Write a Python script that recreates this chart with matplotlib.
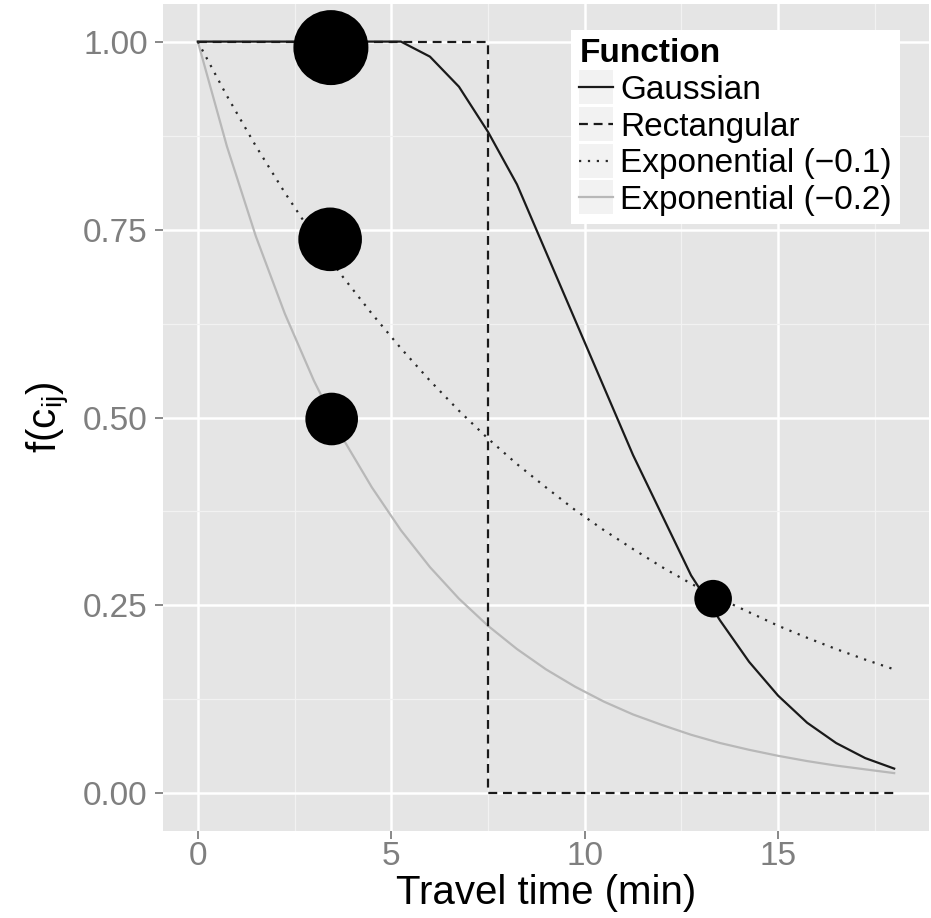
import matplotlib
matplotlib.use("Agg")
import matplotlib.pyplot as plt
from matplotlib.lines import Line2D
from matplotlib.patches import Rectangle
from matplotlib.legend_handler import HandlerLine2D

plt.rcParams['font.family'] = ['Liberation Sans', 'DejaVu Sans']

# ---------------- data ----------------
time_grid = [0, 0.75, 1.5, 2.25, 3, 3.75, 4.5, 5.25, 6, 6.75, 7.5, 8.25, 9,
             9.75, 10.5, 11.25, 12, 12.75, 13.5, 14.25, 15, 15.75, 16.5, 17.25, 18]
gaussian = [1.0, 1.0, 1.0, 1.0, 1.0, 1.0, 1.0, 1.0, 0.98, 0.94, 0.88, 0.81, 0.72,
            0.63, 0.54, 0.45, 0.37, 0.29, 0.23, 0.175, 0.13, 0.094, 0.067, 0.047, 0.033]
exp_01 = [1.0, 0.928, 0.861, 0.799, 0.741, 0.687, 0.638, 0.592, 0.549, 0.509, 0.472,
          0.438, 0.407, 0.377, 0.35, 0.325, 0.301, 0.279, 0.259, 0.241, 0.223, 0.207,
          0.192, 0.178, 0.165]
exp_02 = [1.0, 0.861, 0.741, 0.638, 0.549, 0.472, 0.407, 0.35, 0.301, 0.259, 0.223,
          0.192, 0.165, 0.142, 0.122, 0.105, 0.091, 0.078, 0.067, 0.058, 0.05, 0.043,
          0.037, 0.032, 0.027]
rect_time = [0, 7.5, 7.5, 18]
rect_value = [1.0, 1.0, 0.0, 0.0]

point_time = [3.44, 3.42, 3.46, 13.32]
point_value = [0.992, 0.737, 0.498, 0.259]
point_size = [2916, 2097, 1435, 733]

series_labels = ["Gaussian", "Rectangular", "Exponential (\u22120.1)", "Exponential (\u22120.2)"]
legend_title = "Function"
x_ticks = [0, 5, 10, 15]
x_tick_labels = ["0", "5", "10", "15"]
x_minor = [2.5, 7.5, 12.5, 17.5]
y_ticks = [0.0, 0.25, 0.5, 0.75, 1.0]
y_tick_labels = ["0.00", "0.25", "0.50", "0.75", "1.00"]
y_minor = [0.125, 0.375, 0.625, 0.875]
x_title = "Travel time (min)"
y_title = r"$\mathregular{f(c_{ij})}$"

# ---------------- figure ----------------
W, H = 931, 918
fig = plt.figure(figsize=(W / 100, H / 100), dpi=100)
ax = fig.add_axes([163 / W, 87 / H, 766 / W, 827 / H])
ax.set_facecolor('#E5E5E5')
for s in ax.spines.values():
    s.set_visible(False)

ax.set_xlim(-0.9, 18.9)
ax.set_ylim(-0.05, 1.05)
ax.set_xticks(x_ticks)
ax.set_xticklabels(x_tick_labels)
ax.set_yticks(y_ticks)
ax.set_yticklabels(y_tick_labels)
ax.set_xticks(x_minor, minor=True)
ax.set_yticks(y_minor, minor=True)

ax.grid(which='major', color='white', linewidth=1.8, zorder=0)
ax.grid(which='minor', color='#F2F2F2', linewidth=0.9, zorder=0)
ax.set_axisbelow(True)

ax.tick_params(which='major', axis='both', labelsize=24, labelcolor='#7F7F7F',
               color='#7F7F7F', length=6, width=1.3)
ax.tick_params(which='major', axis='y', pad=5)
ax.tick_params(which='major', axis='x', pad=1.5)
ax.tick_params(which='minor', length=0)

lw = 1.6
l_gauss, = ax.plot(time_grid, gaussian, color='#1A1A1A', lw=lw, zorder=3)
l_rect, = ax.plot(rect_time, rect_value, color='#1A1A1A', lw=lw,
                  linestyle=(0, (4.0, 2.6)), zorder=3)
l_exp1, = ax.plot(time_grid, exp_01, color='#2A2A2A', lw=lw,
                  linestyle=(0, (1, 3.0)), zorder=3)
l_exp2, = ax.plot(time_grid, exp_02, color='#B8B8B8', lw=lw, zorder=2)

ax.scatter(point_time, point_value, s=point_size, c='black', linewidths=0, zorder=5)

ax.set_xlabel(x_title, fontsize=29, va='center')
ax.xaxis.set_label_coords(0.5, -0.075)
ax.set_ylabel(y_title, fontsize=29, va='center', ha='center')
ax.yaxis.set_label_coords(-0.150, 0.5)


class KeyHandler(HandlerLine2D):
    def create_artists(self, legend, orig_handle, xdescent, ydescent, width,
                       height, fontsize, trans):
        arts = super().create_artists(legend, orig_handle, xdescent, ydescent,
                                      width, height, fontsize, trans)
        extra = 3.9
        rect = Rectangle((-xdescent, -ydescent - extra), width, height + 2 * extra,
                         facecolor='#F2F2F2', edgecolor='none', transform=trans)
        return [rect] + list(arts)


handler = KeyHandler()
leg = ax.legend([l_gauss, l_rect, l_exp1, l_exp2], series_labels,
                title=legend_title, loc='upper left',
                bbox_to_anchor=(571 / W, 1 - 30 / H), bbox_transform=fig.transFigure,
                borderaxespad=0, fontsize=24, title_fontsize=24,
                handlelength=1.02, handletextpad=0.2, labelspacing=0.17,
                borderpad=0.25, frameon=True, fancybox=False, framealpha=1,
                facecolor='white', edgecolor='none', alignment='left',
                handler_map={Line2D: handler})
leg.get_title().set_fontweight('bold')
leg.set_zorder(10)

fig.savefig('out.png', dpi=100)
